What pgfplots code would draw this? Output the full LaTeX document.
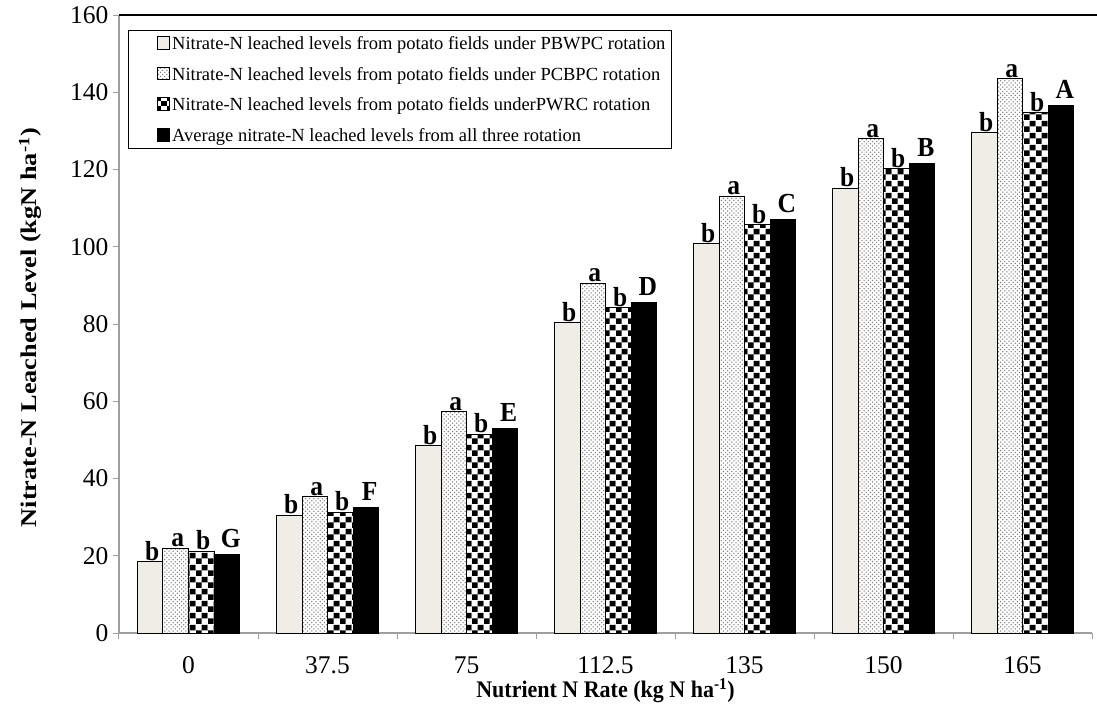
\documentclass[border=0pt]{standalone}
\usepackage{fontspec}
\setmainfont{Liberation Serif}
\usepackage{graphicx}
\usepackage{pgfplots}
\pgfplotsset{compat=1.18}
\usetikzlibrary{patterns}
\definecolor{beige}{RGB}{240,237,230}
\pgfdeclarepatternformonly{mydots}{\pgfpoint{-1pt}{-1pt}}{\pgfpoint{5pt}{5pt}}{\pgfpoint{4.2pt}{4.2pt}}{%
  \pgfpathcircle{\pgfpoint{1pt}{1pt}}{0.75pt}%
  \pgfpathcircle{\pgfpoint{3.1pt}{3.1pt}}{0.75pt}%
  \pgfusepath{fill}}
\pgfdeclarepatterninherentlycolored{checker}{\pgfpointorigin}{\pgfpoint{11.5pt}{11.5pt}}{\pgfpoint{11.5pt}{11.5pt}}{%
  \pgfsetfillcolor{white}%
  \pgfpathrectangle{\pgfpointorigin}{\pgfpoint{11.5pt}{11.5pt}}\pgfusepath{fill}%
  \pgfsetfillcolor{black}%
  \pgfpathrectangle{\pgfpointorigin}{\pgfpoint{5.75pt}{5.75pt}}\pgfusepath{fill}%
  \pgfpathrectangle{\pgfpoint{5.75pt}{5.75pt}}{\pgfpoint{5.75pt}{5.75pt}}\pgfusepath{fill}}
\begin{document}
\begin{tikzpicture}
\path[use as bounding box] (-119pt,-83pt) rectangle (978pt,633pt);
\begin{axis}[
  at={(0,0)}, anchor=south west,
  scale only axis, width=973pt, height=618pt,
  ybar=0pt, bar width=25.5pt,
  xmin=-0.5, xmax=6.5, ymin=0, ymax=160,
  axis x line=bottom, axis y line=left,
  axis line style={-, draw=gray!75, line width=1.2pt},
  xtick={0,...,6},
  xticklabels={0,37.5,75,112.5,135,150,165},
  major x tick style={draw=none},
  minor xtick={-0.5,0.5,1.5,2.5,3.5,4.5,5.5,6.5},
  minor tick length=6pt,
  minor x tick style={draw=gray!75, line width=1pt},
  ytick={0,20,...,160},
  major tick length=6pt,
  tick align=outside,
  y tick style={draw=gray!75, line width=1pt},
  /pgf/number format/assume math mode=true,
  ticklabel style={font=\fontsize{25.5}{28}\selectfont},
  xticklabel style={yshift=-14pt},
  yticklabel style={xshift=-1pt},
  xlabel={\scalebox{1}[1.08]{\textbf{Nutrient N Rate (kg N ha\textsuperscript{-1})}}},
  ylabel={\scalebox{1.17}[1]{\textbf{Nitrate-N Leached Level (kgN ha\textsuperscript{-1})}}},
  xlabel style={font=\fontsize{22}{26}\selectfont, at={(axis description cs:0.5,-0.093)}, anchor=center},
  ylabel style={font=\fontsize{22.5}{26}\selectfont, at={(axis description cs:-0.091,0.494)}, anchor=center},
  legend style={at={(axis description cs:0.00925,0.976)}, anchor=north west,
    draw=black, line width=1.5pt, font=\fontsize{18.5}{21}\selectfont,
    row sep=14pt, inner xsep=4pt, inner ysep=5pt, legend cell align=left,
    nodes={inner xsep=2pt, inner ysep=1pt}},
  legend image code/.code={\path (-24pt,0pt); \draw[#1, line width=0.8pt] (0pt,-5.5pt) rectangle (12.5pt,7pt);},
  nodes near coords={\scalebox{1}[1.08]{\pgfplotspointmeta}}, point meta=explicit symbolic,
  every node near coord/.append style={font=\fontsize{25.5}{28}\selectfont\bfseries, anchor=south, inner sep=0.5pt, black, xshift=2pt},
  clip=false,
]
\addplot[draw=black, line width=1pt, fill=beige] coordinates {
 (0,18.5)[b] (1,30.5)[b] (2,48.5)[b] (3,80.3)[b] (4,100.8)[b] (5,115.2)[b] (6,129.6)[b]};
\addlegendentry{Nitrate-N leached levels from potato fields under PBWPC rotation}
\addplot[draw=black, line width=1pt, preaction={fill=white}, pattern=mydots, pattern color=black!50] coordinates {
 (0,22)[a] (1,35.3)[a] (2,57.4)[a] (3,90.6)[a] (4,113.1)[a] (5,128)[a] (6,143.5)[a]};
\addlegendentry{Nitrate-N leached levels from potato fields under PCBPC rotation}
\addplot[draw=black, line width=1pt, pattern=checker] coordinates {
 (0,21.2)[b] (1,31.3)[b] (2,51.5)[b] (3,84.3)[b] (4,105.8)[b] (5,120.2)[b] (6,134.8)[b]};
\addlegendentry{Nitrate-N leached levels from potato fields underPWRC rotation}
\addplot[draw=black, line width=1pt, fill=black,
  every node near coord/.append style={yshift=6pt, xshift=2pt}] coordinates {
 (0,20.3)[G] (1,32.5)[F] (2,52.9)[E] (3,85.5)[D] (4,107)[C] (5,121.6)[B] (6,136.6)[A]};
\addlegendentry{Average nitrate-N leached levels from all three rotation}
\end{axis}
\draw[black, line width=1.5pt] (0pt,618pt) -- (978pt,618pt);
\end{tikzpicture}
\end{document}
